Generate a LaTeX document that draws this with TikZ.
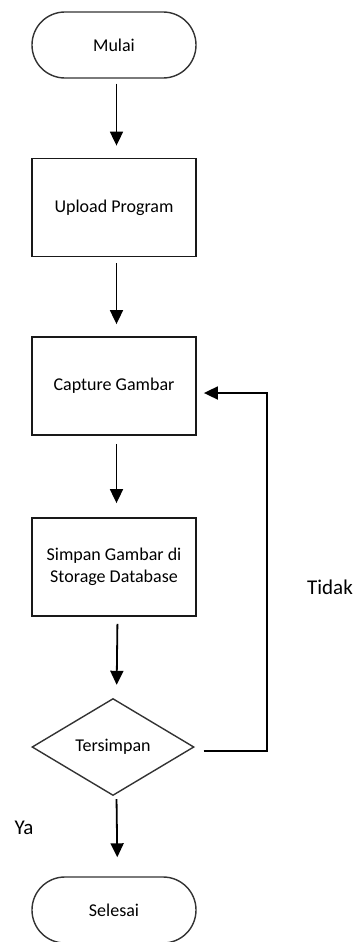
\documentclass[tikz,border=0pt]{standalone}
\usepackage{fontspec}
\setmainfont{Carlito}
\usetikzlibrary{arrows.meta,shapes.geometric}

\tikzset{
  terminal/.style={draw=black!80, line width=1.4pt, rectangle, rounded corners=32.9pt,
    minimum width=164pt, minimum height=66pt, inner sep=0pt, font=\fontsize{18}{22}\selectfont},
  process/.style={draw=black!90, line width=1.8pt, rectangle,
    minimum width=164pt, minimum height=98pt, inner sep=0pt, align=center,
    font=\fontsize{18}{21.5}\selectfont},
  decision/.style={draw=black!80, line width=1.4pt, diamond, aspect=1.67,
    minimum width=162pt, minimum height=97pt, inner sep=0pt, font=\fontsize{18}{22}\selectfont},
  flow/.style={draw=black, line width=1.8pt, -{Triangle[length=14pt,width=13pt]}},
  label/.style={font=\fontsize{21}{24}\selectfont, inner sep=0pt}
}

\begin{document}
\begin{tikzpicture}[x=1pt, y=-1pt]
  \useasboundingbox (0,0) rectangle (362,942);

  % main column of the flowchart
  \node[terminal] (mulai)   at (114,45)    {Mulai};
  \node[process]  (upload)  at (114,207.5) {Upload Program};
  \node[process]  (capture) at (114,386)   {Capture Gambar};
  \node[process]  (simpan)  at (114,567)   {Simpan Gambar di\\Storage Database};
  \node[decision] (cek)     at (113,747)   {Tersimpan};
  \node[terminal] (selesai) at (114,910)   {Selesai};

  % loop-back corner
  \coordinate (pojok) at (267,747);

  % branch labels
  \node[label] (tidak) at (330,587) {Tidak};
  \node[label] (ya)    at (24,828)  {Ya};

  % straight arrows down the column
  \draw[flow, shorten <=5pt, shorten >=12pt]
    ([xshift=2.5pt]mulai.south) -- ([xshift=2.5pt]upload.north);
  \draw[flow, shorten <=6pt, shorten >=12pt]
    ([xshift=2.5pt]upload.south) -- ([xshift=2.5pt]capture.north);
  \draw[flow, shorten <=8pt, shorten >=14pt]
    ([xshift=2.5pt]capture.south) -- ([xshift=2.5pt]simpan.north);
  \draw[flow, shorten <=7pt, shorten >=13pt]
    ([xshift=3.5pt]simpan.south) -- ([xshift=3.5pt]cek.north);
  \draw[flow, shorten <=3pt, shorten >=19pt]
    ([xshift=3.5pt]cek.south) -- ([xshift=3.5pt]selesai.north);

  % "Tidak" branch returning to the capture step
  \draw[flow, shorten <=9pt, shorten >=7pt]
    ([yshift=-4pt]cek.east) -- ([yshift=-4pt]pojok) |- ([yshift=-7pt]capture.east);
\end{tikzpicture}
\end{document}
